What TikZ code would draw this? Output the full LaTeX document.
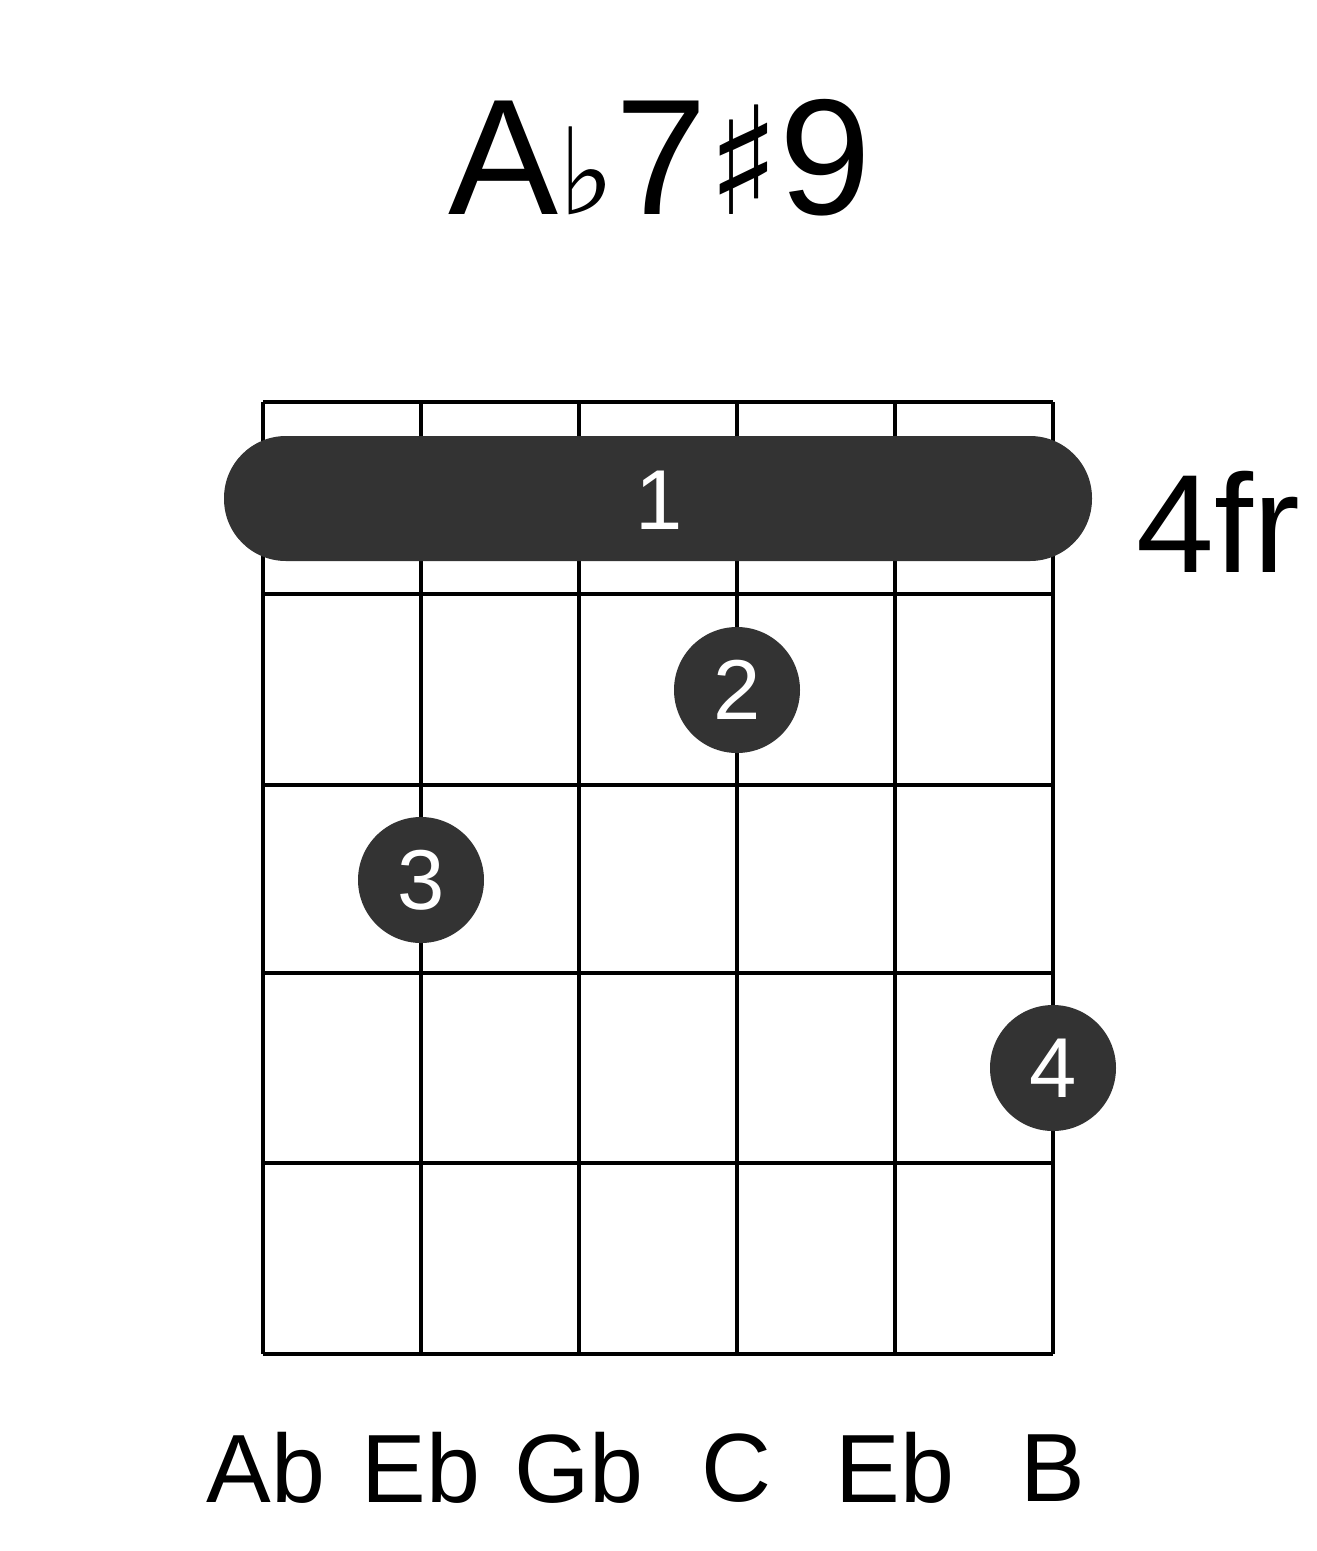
\documentclass[tikz,border=0pt]{standalone}
\usepackage{fontspec}
\setmainfont{Liberation Sans}
\newfontfamily\symf{DejaVu Sans}
\begin{document}
\begin{tikzpicture}[x=1pt,y=-1pt,
  grid/.style={line width=4pt},
  dot/.style={circle,fill=black!80,minimum size=126pt,inner sep=0pt,text=white,font=\fontsize{85}{85}\selectfont},
  lab/.style={font=\fontsize{97}{97}\selectfont}]
\useasboundingbox (0,0) rectangle (1317,1551);
\foreach \x in {263,421,579,737,895,1053} \draw[grid] (\x,402) -- (\x,1354);
\foreach \y in {402,594,785,973,1163,1354} \draw[grid] (263,\y) -- (1053,\y);
\fill[black!80,rounded corners=62pt] (224,436) rectangle (1092,561);
\node[text=white,font=\fontsize{85}{85}\selectfont] (one) at (659,500) {1};
\node[dot] (d2) at (737,690) {2};
\node[dot] (d3) at (421,880) {3};
\node[dot] (d4) at (1053,1068) {4};
\node[font=\fontsize{140}{140}\selectfont] (fr) at (1218,522) {4fr};
\node[font=\fontsize{165}{165}\selectfont] (title) at (660,158) {A{\symf\fontsize{120}{120}\selectfont ♭}7{\symf\fontsize{150}{150}\selectfont ♯}9};
\node[lab] (n1) at (266,1468) {Ab};
\node[lab] (n2) at (421,1468) {Eb};
\node[lab] (n3) at (579,1468) {Gb};
\node[lab] (n4) at (737,1468) {C};
\node[lab] (n5) at (895,1468) {Eb};
\node[lab] (n6) at (1053,1468) {B};
\end{tikzpicture}
\end{document}
